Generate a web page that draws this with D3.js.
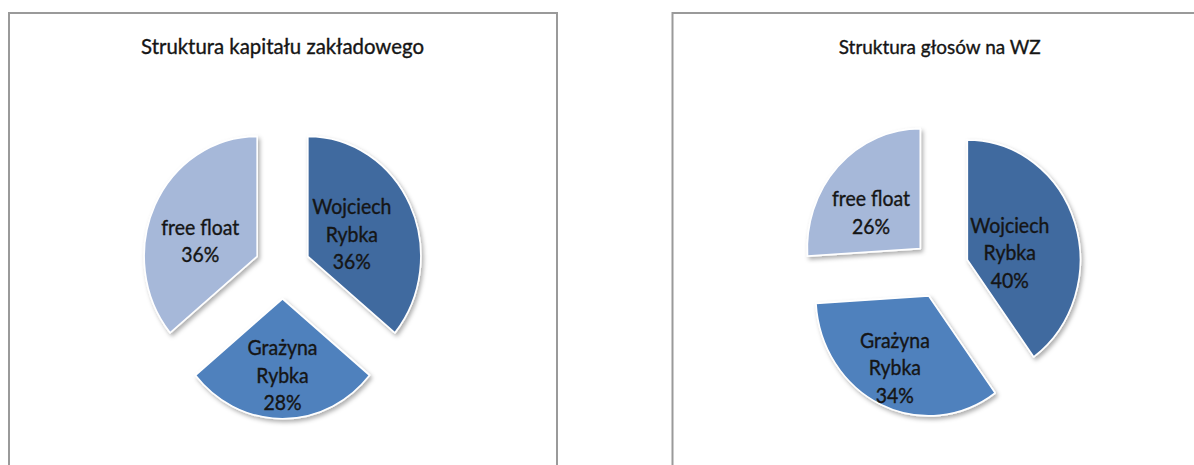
<!DOCTYPE html>
<html>
<head>
<meta charset="utf-8">
<script src="https://cdn.jsdelivr.net/npm/d3@7"></script>
<style>
  html, body { margin: 0; padding: 0; background: #ffffff; }
  svg { display: block; }
  text { font-family: Lato, "Open Sans", sans-serif; fill: #151515; stroke: #151515; stroke-width: 0.35px; }
</style>
</head>
<body>
<svg id="chart" width="1194" height="465"></svg>
<script>
// ---- data ----
const categories = ["Wojciech Rybka", "Grażyna Rybka", "free float"];
const categoryLabelLines = [["Wojciech", "Rybka"], ["Grażyna", "Rybka"], ["free float"]];
const capitalShares = [36, 28, 36];   // Struktura kapitału zakładowego (%)
const voteShares = [40, 34, 26];      // Struktura głosów na WZ (%)
const chartTitles = ["Struktura kapitału zakładowego", "Struktura głosów na WZ"];
const sliceColors = ["#416a9f", "#4f81bd", "#a6b8d9"];

// ---- layout / style ----
const panels = [
  { x: 9, y: 13, w: 548, h: 480, cx: 273.5, cy: 256, titleW: 283, values: capitalShares,
    labelPos: [{ r: 0.43, a: 0 }, { r: 0.64, a: 0 }, { r: 0.52, a: -11 }] },
  { x: 672.5, y: 13, w: 548, h: 480, cx: 268.2, cy: 256, titleW: 202, values: voteShares,
    labelPos: [{ r: 0.38, a: 9 }, { r: 0.67, a: 1.4 }, { r: 0.53, a: -8.7 }] }
];
const R = 113, SY = 1.062, EXPLODE = 28;
const titleBaseline = 41;        // relative to panel top
const labelTargetW = 78;         // width of "free float"
const lineH = 27.5;

const svg = d3.select("#chart");
const defs = svg.append("defs");
const f = defs.append("filter").attr("id", "shadow")
  .attr("x", "-20%").attr("y", "-20%").attr("width", "140%").attr("height", "140%");
f.append("feDropShadow").attr("dx", 2).attr("dy", 2.5).attr("stdDeviation", 2)
  .attr("flood-color", "#000").attr("flood-opacity", 0.32);

function fitFont(txt, target, base) {
  const t = svg.append("text").attr("font-size", base).text(txt);
  const w = t.node().getComputedTextLength();
  t.remove();
  return base * target / w;
}
const labelFont = fitFont("free float", labelTargetW, 20);

const pie = d3.pie().sort(null).value(d => d).startAngle(0).endAngle(2 * Math.PI);
const arc = d3.arc().innerRadius(0).outerRadius(R);

panels.forEach((p, pi) => {
  const g = svg.append("g").attr("transform", `translate(${p.x},${p.y})`);
  g.append("rect").attr("x", 0).attr("y", 0).attr("width", p.w).attr("height", p.h)
    .attr("fill", "#fff").attr("stroke", "#9a9a9a").attr("stroke-width", 2);

  const tf = fitFont(chartTitles[pi], p.titleW, 18);
  g.append("text")
    .attr("transform", `translate(${p.cx + (pi === 0 ? 0 : -1)},${titleBaseline}) scale(1,${SY})`)
    .attr("text-anchor", "middle").attr("font-size", tf)
    .text(chartTitles[pi]);

  const arcs = pie(p.values);
  const pg = g.append("g").attr("transform", `translate(${p.cx},${p.cy}) scale(1,${SY})`);
  pg.selectAll("path").data(arcs).join("path")
    .attr("transform", d => {
      const m = (d.startAngle + d.endAngle) / 2;
      return `translate(${Math.sin(m) * EXPLODE},${-Math.cos(m) * EXPLODE})`;
    })
    .attr("d", arc)
    .attr("fill", (d, i) => sliceColors[i])
    .attr("stroke", "#ffffff").attr("stroke-width", 1.6)
    .attr("stroke-linejoin", "round")
    .attr("filter", "url(#shadow)");

  arcs.forEach((d, i) => {
    const m = (d.startAngle + d.endAngle) / 2;
    const ox = Math.sin(m) * EXPLODE, oy = -Math.cos(m) * EXPLODE * SY;
    const la = m + p.labelPos[i].a * Math.PI / 180;
    const lr = p.labelPos[i].r * R;
    const lx = p.cx + ox + Math.sin(la) * lr;
    const ly = p.cy + oy - Math.cos(la) * lr * SY;
    const lines = categoryLabelLines[i].concat([d.data + "%"]);
    const n = lines.length;
    const t = g.append("text")
      .attr("transform", `translate(${lx},${ly}) scale(1,${SY})`)
      .attr("text-anchor", "middle").attr("font-size", labelFont);
    lines.forEach((ln, k) => {
      t.append("tspan").attr("x", 0)
        .attr("y", (k - (n - 1) / 2) * lineH / SY + labelFont * 0.36)
        .text(ln);
    });
  });
});
</script>
</body>
</html>
